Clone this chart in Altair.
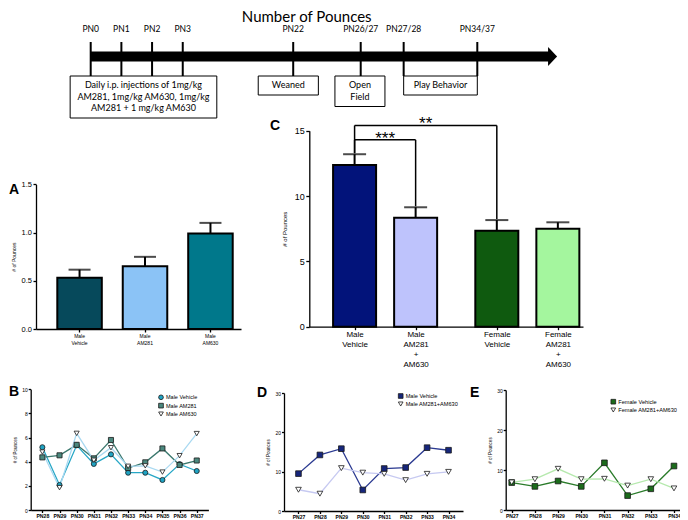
import json
import altair as alt
import pandas as pd

# ======================= data =======================
# timeline (schematic positions along the arrow)
timeline_labels = ["PN0", "PN1", "PN2", "PN3", "PN22", "PN26/27", "PN27/28", "PN34/37"]
timeline_pos = [0, 1, 2, 3, 6.6, 8.8, 10.2, 12.6]
timeline_arrow_tip = 15.2
box_text = ["Daily i.p. injections of 1mg/kg\nAM281, 1mg/kg AM630, 1mg/kg\nAM281 + 1 mg/kg AM630",
            "Weaned", "Open\nField", "Play Behavior"]
box_start = [-0.67, 5.46, 7.96, 10.2]
box_end = [4.11, 7.42, 9.59, 12.6]

# panel A
a_groups = ["Male Vehicle", "Male AM281", "Male AM630"]
a_mean = [0.53, 0.65, 0.99]
a_upper = [0.615, 0.748, 1.10]
a_colors = ["#06495b", "#8bc3f6", "#00788b"]

# panel C
c_groups = ["Male Vehicle", "Male AM281 + AM630", "Female Vehicle", "Female AM281 + AM630"]
c_sex = ["Male", "Male", "Female", "Female"]
c_mean = [12.37, 8.34, 7.35, 7.5]
c_upper = [13.2, 9.14, 8.16, 7.99]
c_colors = ["#02137a", "#bec3fc", "#0f5a0f", "#a4f69e"]
c_sig_from = ["Male Vehicle", "Male Vehicle"]
c_sig_to = ["Male AM281 + AM630", "Female Vehicle"]
c_sig_text = ["***", "**"]

# panel B
b_days = ["PN28", "PN29", "PN30", "PN31", "PN32", "PN33", "PN34", "PN35", "PN36", "PN37"]
b_series = ["Male Vehicle", "Male AM281", "Male AM630"]
b_vehicle = [5.2, 2.07, 5.36, 3.82, 4.61, 3.09, 3.09, 2.49, 3.8, 3.23]
b_am281 = [4.36, 4.53, 5.4, 4.28, 5.8, 3.48, 3.95, 5.1, 3.73, 4.1]
b_am630 = [4.8, 1.85, 6.35, 4.12, 5.16, 3.62, 3.66, 3.14, 4.5, 6.33]
b_line_colors = ["#27a7c6", "#3b786e", "#a9d9f1"]
b_fills = ["#1fa3c3", "#4b887e", "white"]
b_shapes = ["circle", "square", "triangle-down"]

# panel D
d_days = ["PN27", "PN28", "PN29", "PN30", "PN31", "PN32", "PN33", "PN34"]
d_series = ["Male Vehicle", "Male AM281+AM630"]
d_vehicle = [9.5, 14.25, 15.85, 5.35, 10.8, 11.05, 16.1, 15.45]
d_combo = [5.4, 4.4, 10.9, 9.75, 9.45, 7.85, 9.45, 9.95]
d_line_colors = ["#2b3a91", "#c6c9f1"]
d_fills = ["#16267c", "white"]

# panel E
e_days = ["PN27", "PN28", "PN29", "PN30", "PN31", "PN32", "PN33", "PN34"]
e_series = ["Female Vehicle", "Female AM281+AM630"]
e_vehicle = [6.85, 5.9, 7.25, 5.9, 11.8, 3.6, 5.3, 11.0]
e_combo = [6.9, 7.7, 10.3, 7.7, 7.8, 6.1, 7.7, 5.4]
e_line_colors = ["#2a7b2a", "#b6e9ae"]
e_fills = ["#1b6b1b", "white"]
de_shapes = ["square", "triangle-down"]

# ======================= layout =======================
MARGIN = 8
W, H = 672, 512
FONT = "Liberation Sans"
TLFONT = "Lato"


def P(v):
    """page pixel -> chart pixel"""
    return v - MARGIN


def letter(t, x, y):
    return alt.Chart(pd.DataFrame({"t": [t]})).mark_text(
        font=FONT, fontSize=14, fontWeight="bold", align="left", baseline="middle", color="black"
    ).encode(text="t:N", x=alt.value(P(x)), y=alt.value(P(y)))


def xaxis(ypix, **kw):
    base = dict(orient="bottom", offset=P(ypix) - H, title=None, labelOverlap=False,
                labelFlush=False, labelAngle=0, grid=False)
    base.update(kw)
    return alt.Axis(**base)


def yaxis(xpix, **kw):
    base = dict(orient="left", offset=-P(xpix), labelOverlap=False, labelFlush=False,
                grid=False, title="# of Pounces")
    base.update(kw)
    return alt.Axis(**base)


# ---------------- timeline ----------------
tl_x0, tl_x1 = 90.7, 477.3
px_per_unit = (tl_x1 - tl_x0) / (timeline_pos[-1] - timeline_pos[0])
tl_xs = alt.Scale(domain=[timeline_pos[0], timeline_pos[-1]], range=[P(tl_x0), P(tl_x1)],
                  nice=False, zero=False)
tl_ys = alt.Scale(domain=[0, H], range=[0, H], nice=False, zero=False)

ev = pd.DataFrame({"label": timeline_labels, "pos": timeline_pos})
bx = pd.DataFrame({"text": box_text, "start": box_start, "end": box_end})
bx["mid"] = (bx["start"] + bx["end"]) / 2
bx["lines"] = bx["text"].str.count("\n") + 1
bx["top"] = P(76)
bx["bottom"] = bx["top"] + 7.5 + 11.5 * bx["lines"]

head_len = 9 / px_per_unit
arrow_df = pd.DataFrame({"a": [timeline_pos[0]], "b": [timeline_arrow_tip - head_len + 0.05],
                         "h": [timeline_arrow_tip - head_len / 2]})
arrow_y = P(56.5)

tl_title = alt.Chart(pd.DataFrame({"t": ["Number of Pounces"]})).mark_text(
    font=TLFONT, fontSize=15, align="center", baseline="top", color="black"
).encode(text="t:N", x=alt.value(P(306.7)), y=alt.value(2))
tl_body = alt.Chart(arrow_df).mark_rule(strokeWidth=10, color="black").encode(
    x=alt.X("a:Q", scale=tl_xs, axis=None), x2="b:Q", y=alt.value(arrow_y))
tl_head = alt.Chart(arrow_df).mark_point(
    shape="M-0.45,-0.95L0.45,0L-0.45,0.95Z", size=400, filled=True, color="black", opacity=1
).encode(x=alt.X("h:Q", scale=tl_xs, axis=None), y=alt.value(arrow_y))
tl_ticks = alt.Chart(ev).mark_rule(strokeWidth=2, color="black").encode(
    x=alt.X("pos:Q", scale=tl_xs, axis=None), y=alt.value(P(42)), y2=alt.value(P(76)))
tl_lab = alt.Chart(ev).mark_text(font=TLFONT, fontSize=8.5, baseline="middle", color="black").encode(
    x=alt.X("pos:Q", scale=tl_xs, axis=None), y=alt.value(P(28.5)), text="label:N")
tl_box = alt.Chart(bx).mark_rect(fill="white", stroke="black", strokeWidth=1).encode(
    x=alt.X("start:Q", scale=tl_xs, axis=None), x2="end:Q",
    y=alt.Y("top:Q", scale=tl_ys, axis=None), y2="bottom:Q")
tl_btxt = alt.Chart(bx).mark_text(font=TLFONT, fontSize=9, baseline="top", lineBreak="\n",
                                  lineHeight=11.5, color="black").encode(
    x=alt.X("mid:Q", scale=tl_xs, axis=None), y=alt.value(P(81)), text="text:N")
timeline = alt.layer(tl_title, tl_body, tl_head, tl_ticks, tl_lab, tl_box, tl_btxt)

# ---------------- panel A ----------------
dfA = pd.DataFrame({"group": a_groups, "mean": a_mean, "upper": a_upper})
xsA = alt.Scale(domain=a_groups, range=[P(36), P(241)], paddingInner=0.32, paddingOuter=0.226, align=0.72)
ysA = alt.Scale(domain=[0, 1.5], range=[P(329), P(184.3)], nice=False, zero=False)
axA_x = xaxis(329, labelExpr="split(datum.label, ' ')", labelFontSize=5, labelLineHeight=6.5,
              tickSize=3, labelPadding=1.5)
axA_y = yaxis(36, values=[0, 0.5, 1.0, 1.5], format=".1f", labelFontSize=7.5, tickSize=3,
              labelPadding=1.5, titleFontSize=5, titlePadding=5)


def xA(f):
    return alt.X(f, sort=a_groups, scale=xsA, axis=axA_x)


def yA(f):
    return alt.Y(f, scale=ysA, axis=axA_y)


barsA = alt.Chart(dfA).mark_bar(stroke="black", strokeWidth=2).encode(
    x=xA("group:N"), y=yA("mean:Q"),
    color=alt.Color("group:N", scale=alt.Scale(domain=a_groups, range=a_colors), legend=None))
errA = alt.Chart(dfA).mark_rule(color="black", strokeWidth=2).encode(x=xA("group:N"), y=yA("mean:Q"), y2="upper:Q")
capA = alt.Chart(dfA).mark_tick(color="black", thickness=2, size=22, orient="horizontal").encode(
    x=xA("group:N"), y=yA("upper:Q"))
panelA = alt.layer(errA, barsA, capA, letter("A", 9, 190))

# ---------------- panel C ----------------
female_gap = 0.33
c_pos = [round(i + (female_gap if s == "Female" else 0), 2) for i, s in enumerate(c_sex)]
dfC = pd.DataFrame({"group": c_groups, "pos": c_pos, "mean": c_mean, "upper": c_upper})
xsC = alt.Scale(domain=[-0.66, 3.66], range=[P(309.3), P(583)], nice=False, zero=False)
ysC = alt.Scale(domain=[0, 15], range=[P(326.7), P(130.7)], nice=False, zero=False)
labC = f"split({json.dumps(c_groups)}[indexof({json.dumps(c_pos)}, datum.value)], ' ')"
axC_x = xaxis(326.7, values=c_pos, labelExpr=labC, labelFontSize=8, labelLineHeight=10,
              tickSize=3, labelPadding=1)
axC_y = yaxis(309.3, values=[0, 5, 10, 15], labelFontSize=9, tickSize=3.5, labelPadding=1.5,
              titleFontSize=6, titlePadding=7)


def xC(f):
    return alt.X(f, scale=xsC, axis=axC_x)


def yC(f):
    return alt.Y(f, scale=ysC, axis=axC_y)


barsC = alt.Chart(dfC).mark_bar(stroke="black", strokeWidth=2, size=43, orient="vertical").encode(
    x=xC("pos:Q"), y=yC("mean:Q"),
    color=alt.Color("group:N", scale=alt.Scale(domain=c_groups, range=c_colors), legend=None))
errC = alt.Chart(dfC).mark_rule(color="black", strokeWidth=2).encode(x=xC("pos:Q"), y=yC("mean:Q"), y2="upper:Q")
capC = alt.Chart(dfC).mark_tick(color="black", thickness=2, size=23, orient="horizontal").encode(
    x=xC("pos:Q"), y=yC("upper:Q"))

pos_map = dict(zip(c_groups, c_pos))
up_map = dict(zip(c_groups, c_upper))
br = pd.DataFrame({"a": c_sig_from, "b": c_sig_to, "txt": c_sig_text})
br["xa"] = br["a"].map(pos_map)
br["xb"] = br["b"].map(pos_map)
br["level"] = [max(c_upper) + 1.1 * (i + 1) for i in range(len(br))]
br["ya"] = br["a"].map(up_map) + 0.08
br["yb"] = br["b"].map(up_map) + 0.08
br["mid"] = (br["xa"] + br["xb"]) / 2
brH = alt.Chart(br).mark_rule(color="black", strokeWidth=1.5).encode(x=xC("xa:Q"), x2="xb:Q", y=yC("level:Q"))
brL = alt.Chart(br).mark_rule(color="black", strokeWidth=1.5).encode(x=xC("xa:Q"), y=yC("ya:Q"), y2="level:Q")
brR = alt.Chart(br).mark_rule(color="black", strokeWidth=1.5).encode(x=xC("xb:Q"), y=yC("yb:Q"), y2="level:Q")
brT = alt.Chart(br).mark_text(font=FONT, fontSize=17, baseline="alphabetic", dy=4, color="black").encode(
    x=xC("mid:Q"), y=yC("level:Q"), text="txt:N")
panelC = alt.layer(errC, barsC, capC, brH, brL, brR, brT, letter("C", 270, 125.5))


# ---------------- line panels ----------------
def line_panel(days, names, values, line_colors, fills, shapes, g, ymax, ystep, let, leg, psize):
    rows = [{"day": d, "series": n, "value": v}
            for n, vals in zip(names, values) for d, v in zip(days, vals)]
    df = pd.DataFrame(rows)
    xs = alt.Scale(type="point", domain=days, range=[P(g["xl"]), P(g["xr"])], padding=g["pad"])
    ys = alt.Scale(domain=[0, ymax], range=[P(g["yb"]), P(g["yt"])], nice=False, zero=False)
    xax = xaxis(g["yb"], labelFontSize=g["xfs"], labelFontWeight="bold", tickSize=2.5, labelPadding=1)
    yax = yaxis(g["xl"], values=list(range(0, ymax + 1, ystep)), labelFontSize=5, tickSize=2.5,
                labelPadding=1, titleFontSize=4.5, titlePadding=4)
    x = alt.X("day:N", sort=days, scale=xs, axis=xax)
    y = alt.Y("value:Q", scale=ys, axis=yax)
    fill_sc = alt.Scale(domain=names, range=fills)
    shape_sc = alt.Scale(domain=names, range=shapes)
    lines = alt.Chart(df).mark_line(strokeWidth=1.3).encode(
        x=x, y=y,
        color=alt.Color("series:N", sort=names, scale=alt.Scale(domain=names, range=line_colors), legend=None))
    pts = alt.Chart(df).mark_point(filled=True, size=psize, stroke="#1a1a1a", strokeWidth=0.8, opacity=1).encode(
        x=x, y=y,
        fill=alt.Fill("series:N", sort=names, scale=fill_sc, legend=None),
        shape=alt.Shape("series:N", sort=names, scale=shape_sc, legend=None))
    panel = alt.layer(lines, pts, letter(let[0], let[1], let[2]))

    # legend (symbol + label per series)
    ldf = pd.DataFrame({"series": names})
    lx, ly0, ly1, lfs = leg
    ly = alt.Y("series:N", sort=names, axis=None,
               scale=alt.Scale(type="point", domain=names, range=[P(ly0), P(ly1)], padding=0))
    lsym = alt.Chart(ldf).mark_point(filled=True, size=22, stroke="#1a1a1a", strokeWidth=0.8, opacity=1).encode(
        x=alt.value(P(lx)), y=ly,
        fill=alt.Fill("series:N", sort=names, scale=fill_sc, legend=None),
        shape=alt.Shape("series:N", sort=names, scale=shape_sc, legend=None))
    ltxt = alt.Chart(ldf).mark_text(font=FONT, fontSize=lfs, align="left", baseline="middle", color="black").encode(
        x=alt.value(P(lx + 5)), y=ly, text="series:N")
    return panel, alt.layer(lsym, ltxt)


panelB, legB = line_panel(b_days, b_series, [b_vehicle, b_am281, b_am630], b_line_colors, b_fills, b_shapes,
                          dict(xl=30.7, xr=208.4, yb=510, yt=389.3, pad=0.68, xfs=5.2), 10, 2,
                          ("B", 9, 391.5), (161, 397.3, 414, 5.5), 26)
panelD, legD = line_panel(d_days, d_series, [d_vehicle, d_combo], d_line_colors, d_fills, de_shapes,
                          dict(xl=284, xr=463, yb=511, yt=393, pad=0.675, xfs=5), 30, 10,
                          ("D", 257, 392.5), (400.7, 396, 404, 5.6), 32)
panelE, legE = line_panel(e_days, e_series, [e_vehicle, e_combo], e_line_colors, e_fills, de_shapes,
                          dict(xl=505.7, xr=680, yb=510, yt=390, pad=0.26, xfs=5), 30, 10,
                          ("E", 470, 392.5), (613.3, 401.7, 410, 5.6), 32)

chart = alt.layer(timeline, panelA, panelC, panelB, panelD, panelE, legB, legD, legE).resolve_scale(
    x="independent", y="independent", color="independent", fill="independent", shape="independent"
).properties(
    width=W, height=H, padding=0, autosize=alt.AutoSizeParams(type="none")
).configure_view(stroke=None).configure_axis(
    grid=False, domainColor="black", tickColor="black", labelColor="black", titleColor="black",
    labelFont=FONT, titleFont=FONT, titleFontWeight="normal", domainWidth=1.3, tickWidth=1.3
)

chart.save("out.html", embed_options={"renderer": "svg", "actions": False})
